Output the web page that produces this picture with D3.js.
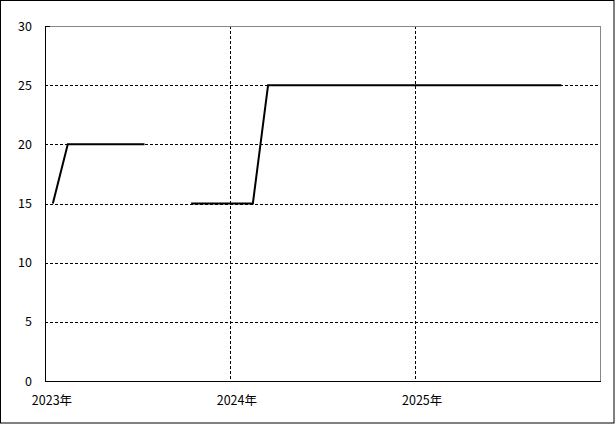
<!DOCTYPE html>
<html><head><meta charset="utf-8">
<script src="https://cdn.jsdelivr.net/npm/d3@7"></script>
<style>body{margin:0;background:#fff}svg{display:block}text{font-family:"Noto Sans CJK JP","DejaVu Sans",sans-serif;font-size:12.5px;fill:#000}</style>
</head><body><svg id="c" width="615" height="424"></svg>
<script>
const months = ["2023-01","2023-02","2023-03","2023-04","2023-05","2023-06","2023-07","2023-08","2023-09","2023-10","2023-11","2023-12",
"2024-01","2024-02","2024-03","2024-04","2024-05","2024-06","2024-07","2024-08","2024-09","2024-10","2024-11","2024-12",
"2025-01","2025-02","2025-03","2025-04","2025-05","2025-06","2025-07","2025-08","2025-09","2025-10"];
const values = [15,20,20,20,20,20,20,null,null,15,15,15,
15,15,25,25,25,25,25,25,25,25,25,25,
25,25,25,25,25,25,25,25,25,25];
const yTicks = [0,5,10,15,20,25,30];
const xTicks = ["2023-01","2024-01","2025-01"];
const xTickLabels = ["2023年","2024年","2025年"];

const svg = d3.select("#c");
const L=45,R=600,T=26,B=381;
const parse = d3.timeParse("%Y-%m");
const x = d3.scaleTime().domain([parse("2023-01"), parse("2026-01")]).range([L,R]);
const y = d3.scaleLinear().domain([0,30]).range([B,T]);
const mid = m => { const a = parse(m), b = d3.timeMonth.offset(a,1); return new Date((+a + +b)/2); };
const data = months.map((m,i)=>({d:mid(m), v:values[i]}));

svg.append("rect").attr("x",0.5).attr("y",0.5).attr("width",613.5).attr("height",422.5).attr("fill","none").attr("stroke","#000");

// grid
svg.append("g").selectAll("line").data(yTicks.filter(t=>t>0&&t<30)).join("line")
  .attr("x1",L).attr("x2",R).attr("y1",d=>Math.round(y(d))+0.5).attr("y2",d=>Math.round(y(d))+0.5)
  .attr("stroke","#000").attr("stroke-dasharray","3,2");
svg.append("g").selectAll("line").data(xTicks.slice(1)).join("line")
  .attr("x1",d=>Math.round(x(parse(d)))+0.5).attr("x2",d=>Math.round(x(parse(d)))+0.5).attr("y1",T).attr("y2",B)
  .attr("stroke","#000").attr("stroke-dasharray","3,2");

// frame
svg.append("line").attr("x1",L).attr("x2",R).attr("y1",T+0.5).attr("y2",T+0.5).attr("stroke","#888");
svg.append("line").attr("x1",R+0.5).attr("x2",R+0.5).attr("y1",T).attr("y2",B).attr("stroke","#888");
svg.append("line").attr("x1",L).attr("x2",L+5).attr("y1",T+0.5).attr("y2",T+0.5).attr("stroke","#000");
svg.append("line").attr("x1",L+0.5).attr("x2",L+0.5).attr("y1",T).attr("y2",B+0.5).attr("stroke","#000");
svg.append("line").attr("x1",L).attr("x2",R+1).attr("y1",B+0.5).attr("y2",B+0.5).attr("stroke","#000");

// labels
svg.append("g").selectAll("text").data(yTicks).join("text")
  .attr("x",32).attr("y",d=>y(d)).attr("dy","0.36em").attr("text-anchor","end").text(d=>d);
svg.append("g").selectAll("text").data(xTicks).join("text")
  .attr("x",d=>x(parse(d))+7).attr("y",400).attr("dy","0.36em").attr("text-anchor","middle").text((d,i)=>xTickLabels[i]);

// line
const line = d3.line().defined(d=>d.v!=null).x(d=>x(d.d)).y(d=>y(d.v));
svg.append("path").datum(data).attr("d",line).attr("fill","none").attr("stroke","#000").attr("stroke-width",2);
</script></body></html>
